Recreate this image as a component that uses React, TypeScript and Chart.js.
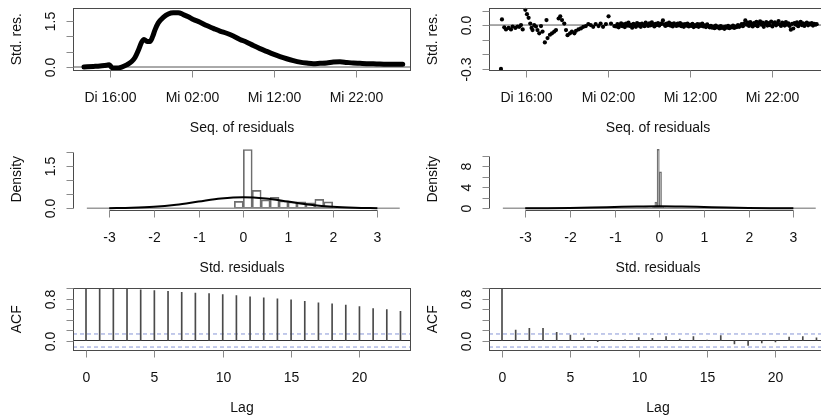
import React, { useEffect, useRef } from "react";
import { Chart, registerables } from "chart.js";
Chart.register(...registerables);

// ---------- data ----------
const TIME_TICKS = [16, 26, 36, 46]; // hours since Di 00:00
const TIME_LABELS = ["Di 16:00", "Mi 02:00", "Mi 12:00", "Mi 22:00"];
const TIME_RANGE = [11.49, 52.71];

// top-left: standardized residuals of the first fit (dense series read as a curve)
const FIT_HOURS = [12.83, 13.97, 14.78, 15.6, 15.92, 16.24, 16.81, 17.43, 18.04, 18.65, 19.05, 19.45, 19.86, 20.15, 20.47, 20.88, 21.2, 21.49, 21.89, 22.5, 23.11, 23.72, 24.33, 24.94, 25.55, 26.16, 26.98, 27.79, 28.6, 29.41, 30.23, 31.04, 31.85, 32.67, 33.48, 34.29, 35.1, 35.92, 36.73, 37.55, 38.36, 39.17, 39.99, 40.8, 41.61, 42.43, 43.24, 44.05, 44.87, 45.68, 46.49, 47.3, 48.52, 49.74, 50.96, 51.7];
const FIT_RES = [0.0, 0.02, 0.035, 0.06, 0.07, -0.02, -0.035, 0.0, 0.07, 0.18, 0.31, 0.54, 0.81, 0.9, 0.84, 0.83, 0.99, 1.21, 1.44, 1.62, 1.73, 1.77, 1.77, 1.71, 1.64, 1.55, 1.46, 1.35, 1.26, 1.17, 1.1, 1.01, 0.9, 0.81, 0.7, 0.6, 0.51, 0.42, 0.34, 0.27, 0.21, 0.16, 0.13, 0.11, 0.12, 0.13, 0.16, 0.17, 0.15, 0.13, 0.12, 0.11, 0.1, 0.09, 0.09, 0.09];

// top-right: standardized residuals of the second fit
const RES_EARLY_HOURS = [12.95, 13.07, 13.35, 13.56, 13.88, 14.17, 14.37, 14.7, 14.98, 15.18, 15.39, 15.6, 15.92, 16.12, 16.32, 16.52, 16.68, 16.8, 17.0, 17.22, 17.4, 17.62, 17.83, 18.02, 18.3, 18.5, 18.63, 18.92, 19.17, 19.45, 19.66, 19.98, 20.18, 20.39, 20.67, 20.88, 21.07, 21.37, 21.6, 21.9, 22.1, 22.4, 22.7, 22.99, 23.3, 23.6, 23.9, 24.2, 24.5, 24.85, 25.1, 25.4, 25.75, 26.07, 26.37, 26.77];
const RES_EARLY = [-0.303, 0.039, -0.016, -0.03, -0.02, -0.03, -0.01, -0.02, -0.01, -0.012, 0.0, -0.03, 0.105, 0.075, 0.05, 0.01, -0.02, -0.035, 0.0, -0.01, -0.035, -0.057, -0.007, -0.045, -0.12, 0.034, -0.09, -0.067, -0.057, -0.045, -0.035, 0.045, 0.06, 0.034, 0.01, -0.035, -0.07, -0.057, -0.045, -0.057, -0.04, -0.03, -0.023, -0.012, -0.007, 0.007, 0.0, -0.012, 0.007, -0.007, 0.01, -0.012, 0.007, 0.06, 0.01, -0.007];
const RES_LATE_START = 27.0;
const RES_LATE_STEP = 0.15;
const RES_LATE = [
  -0.01, 0.006, -0.016, 0.002, 0.012, -0.008, 0.004, -0.014, 0.01, -0.004, 0.016, -0.006, 0.002, -0.018, 0.008, 0.0, -0.012, 0.014, -0.004, 0.006,
  -0.012, 0.01, 0.0, -0.008, 0.016, 0.004, -0.006, 0.012, -0.002, 0.018, 0.002, -0.01, 0.008, 0.0, 0.014, -0.004, 0.006, 0.012, 0.032, 0.004, -0.006, 0.01, 0.0, 0.016, -0.004, 0.008, -0.01, 0.012, 0.002, -0.006, 0.01, -0.002, 0.014,
  -0.008, 0.004, -0.012, 0.006, -0.004, 0.01, -0.01, 0.002, -0.006, 0.008, -0.014, 0.0, -0.008, 0.006, -0.012, 0.004, -0.006, 0.01, -0.01, -0.002, -0.014, 0.004, -0.008, -0.016,
  -0.006, -0.018, -0.01, -0.022, -0.004, -0.016, -0.012, -0.024, -0.008, -0.02, -0.014, -0.026, -0.01, -0.018, -0.006, -0.022, -0.012, -0.016, -0.004, -0.02, -0.01, -0.014, 0.0, -0.012, -0.004, 0.006, -0.008,
  0.01, 0.032, 0.002, 0.016, -0.006, 0.02, 0.006, -0.01, 0.014, 0.0, 0.022, -0.008, 0.012, 0.026, 0.002, 0.016, -0.012, 0.008, 0.02, -0.004, 0.014, 0.0, 0.024, -0.01, 0.01, 0.018, -0.002, 0.012, 0.028, 0.004, -0.006, 0.016, 0.008, -0.004, 0.02, 0.002, 0.012,
  -0.006, -0.032, 0.008, -0.024, 0.014, 0.002, 0.018, -0.008, 0.01, 0.022, 0.0, 0.012, -0.006, 0.008, 0.016, -0.002, 0.01, 0.004, 0.014, -0.004, 0.008, 0.002, 0.006];

// middle: histograms of standardized residuals (density scale) + normal density
const HIST_FIT_MIDS = [-0.1, 0.1, 0.3, 0.5, 0.7, 0.9, 1.1, 1.3, 1.5, 1.7, 1.9];
const HIST_FIT_DENS = [0.25, 2.1, 0.64, 0.3, 0.39, 0.26, 0.23, 0.23, 0.2, 0.32, 0.23];
const HIST_RES_MIDS = [-0.325, -0.275, -0.225, -0.175, -0.125, -0.075, -0.025, 0.025, 0.075, 0.125];
const HIST_RES_DENS = [0.1, 0.1, 0, 0, 0.2, 1.2, 11.3, 7.0, 0.2, 0.1];
const NORM_X = [-3, -2.5, -2, -1.5, -1, -0.5, 0, 0.5, 1, 1.5, 2, 2.5, 3];
const NORM_Y = [0.004, 0.018, 0.054, 0.13, 0.242, 0.352, 0.399, 0.352, 0.242, 0.13, 0.054, 0.018, 0.004];
const BASE_X = [-3.5, 3.5];
const STD_TICKS = [-3, -2, -1, 0, 1, 2, 3];

// bottom: autocorrelation functions
const LAGS = [0, 1, 2, 3, 4, 5, 6, 7, 8, 9, 10, 11, 12, 13, 14, 15, 16, 17, 18, 19, 20, 21, 22, 23];
const ACF_FIT = [1.0, 0.995, 0.987, 0.98, 0.968, 0.955, 0.943, 0.924, 0.91, 0.898, 0.879, 0.86, 0.834, 0.815, 0.796, 0.777, 0.752, 0.72, 0.7, 0.68, 0.65, 0.61, 0.59, 0.56];
const ACF_RES = [1.0, 0.2, 0.235, 0.235, 0.155, 0.105, 0.045, -0.02, 0.015, 0.015, 0.055, 0.04, 0.075, 0.025, 0.075, 0.01, 0.095, -0.065, -0.095, -0.045, -0.025, 0.065, 0.075, 0.05];
const ACF_CI = 0.125;
const LAG_TICKS = [0, 5, 10, 15, 20];

// ---------- style ----------
const FONT = '14px "Liberation Sans", Arial, sans-serif';
const TEXT = "#111";
const BOX = "#4a4a4a";
const TICK = "#8a8a8a";
const PANEL_W = 416;
const PANEL_H = 140;

const rFrame = {
  id: "rFrame",
  afterDatasetsDraw(chart: any, _a: any, o: any) {
    if (!o || !o.on) return;
    const { ctx, chartArea: a, scales } = chart;
    const x = scales.x, y = scales.y;
    const L = Math.round(a.left) + 0.5, R = Math.round(a.right) - 0.5;
    const T = Math.round(a.top) + 0.5, B = Math.round(a.bottom) - 0.5;
    ctx.save();
    ctx.lineWidth = 1;
    if (o.box) {
      ctx.strokeStyle = BOX;
      ctx.strokeRect(L, T, R - L, B - T);
    }
    // x axis
    ctx.strokeStyle = TICK;
    const xp = o.xTicks.map((v: number) => Math.round(x.getPixelForValue(v)) + 0.5);
    if (o.axisLines) {
      ctx.strokeStyle = BOX;
      ctx.beginPath();
      ctx.moveTo(xp[0], B); ctx.lineTo(xp[xp.length - 1], B); ctx.stroke();
      ctx.strokeStyle = TICK;
    }
    ctx.beginPath();
    xp.forEach((p: number) => { ctx.moveTo(p, B); ctx.lineTo(p, B + 7); });
    ctx.stroke();
    // y axis
    const yp = o.yTicks.map((v: number) => Math.round(y.getPixelForValue(v)) + 0.5);
    if (o.axisLines) {
      ctx.strokeStyle = BOX;
      ctx.beginPath();
      ctx.moveTo(L, yp[0]); ctx.lineTo(L, yp[yp.length - 1]); ctx.stroke();
      ctx.strokeStyle = TICK;
    }
    ctx.beginPath();
    yp.forEach((p: number) => { ctx.moveTo(L - 7, p); ctx.lineTo(L, p); });
    ctx.stroke();
    // text
    ctx.fillStyle = TEXT;
    ctx.font = FONT;
    ctx.textAlign = "center";
    ctx.textBaseline = "middle";
    o.xLabels.forEach((s: string, i: number) => { if (s) ctx.fillText(s, xp[i], 98); });
    ctx.fillText(o.xTitle, (a.left + a.right) / 2, 128);
    o.yLabels.forEach((s: string, i: number) => {
      if (!s) return;
      ctx.save(); ctx.translate(51, yp[i]); ctx.rotate(-Math.PI / 2); ctx.fillText(s, 0, 0); ctx.restore();
    });
    ctx.save(); ctx.translate(17, (a.top + a.bottom) / 2); ctx.rotate(-Math.PI / 2); ctx.fillText(o.yTitle, 0, 0); ctx.restore();
    ctx.restore();
  },
};
Chart.register(rFrame);

function opts(xr: number[], yr: number[], frame: any) {
  return {
    animation: false,
    responsive: false,
    maintainAspectRatio: false,
    devicePixelRatio: 1,
    events: [],
    layout: { padding: { left: 73, right: 5, top: 7.5, bottom: 69 } },
    scales: {
      x: { type: "linear", display: false, min: xr[0], max: xr[1], offset: false },
      y: { type: "linear", display: false, min: yr[0], max: yr[1] },
    },
    plugins: { legend: { display: false }, tooltip: { enabled: false }, rFrame: { on: true, ...frame } },
  };
}

const pts = (xs: number[], ys: number[]) => xs.map((v, i) => ({ x: v, y: ys[i] }));
const hline = (xr: number[], yv: number, color: string, dash: number[] = []) => ({
  type: "line", data: [{ x: xr[0], y: yv }, { x: xr[1], y: yv }], borderColor: color, borderWidth: 1,
  borderDash: dash, pointRadius: 0, showLine: true, order: 5,
});

const HIST_X = [-3.81, 3.752];
const LAG_X = [-0.951, 23.77];
const ACF_Y = [-0.201, 1.015];

function tsFrame(yTicks: number[], yLabels: string[]) {
  return { box: true, xTicks: TIME_TICKS, xLabels: TIME_LABELS, xTitle: "Seq. of residuals", yTicks, yLabels, yTitle: "Std. res." };
}
function histFrame(yTicks: number[], yLabels: string[]) {
  return { box: false, axisLines: true, xTicks: STD_TICKS, xLabels: STD_TICKS.map(String), xTitle: "Std. residuals", yTicks, yLabels, yTitle: "Density" };
}
const acfFrame = { box: true, xTicks: LAG_TICKS, xLabels: LAG_TICKS.map(String), xTitle: "Lag", yTicks: [0, 0.2, 0.4, 0.6, 0.8, 1.0], yLabels: ["0.0", "", "", "", "0.8", ""], yTitle: "ACF" };

function histDatasets(mids: number[], dens: number[]) {
  return [
    { type: "bar", data: pts(mids, dens), backgroundColor: "rgba(255,255,255,0)", borderColor: "#6e6e6e", borderWidth: 1, borderSkipped: false, barPercentage: 1, categoryPercentage: 1, order: 3 },
    { type: "line", data: pts(BASE_X, [0, 0]), borderColor: "#9a9a9a", borderWidth: 1.5, pointRadius: 0, order: 2 },
    { type: "line", data: pts(NORM_X, NORM_Y), borderColor: "#000", borderWidth: 2, pointRadius: 0, cubicInterpolationMode: "monotone", order: 1 },
  ];
}
function acfDatasets(vals: number[]) {
  return [
    { type: "bar", data: pts(LAGS, vals), backgroundColor: "#4a4a4a", barThickness: 1, order: 2 },
    hline(LAG_X, 0, "#333"),
    hline(LAG_X, ACF_CI, "#8796d6", [4, 3]),
    hline(LAG_X, -ACF_CI, "#8796d6", [4, 3]),
  ];
}

const RES_LATE_HOURS = RES_LATE.map((_, i) => RES_LATE_START + i * RES_LATE_STEP);

const PANELS: { row: number; col: number; config: () => any }[] = [
  {
    row: 0, col: 0, config: () => ({
      type: "scatter",
      data: { datasets: [
        hline(TIME_RANGE, 0, "#555"),
        { type: "line", data: pts(FIT_HOURS, FIT_RES), borderColor: "#000", borderWidth: 5, pointRadius: 0, cubicInterpolationMode: "monotone", borderCapStyle: "round", borderJoinStyle: "round", order: 1 },
      ] },
      options: opts(TIME_RANGE, [-0.13, 1.94], tsFrame([0, 0.5, 1, 1.5], ["0.0", "", "", "1.5"])),
    }),
  },
  {
    row: 0, col: 1, config: () => ({
      type: "scatter",
      data: { datasets: [
        hline(TIME_RANGE, 0, "#555"),
        { type: "scatter", data: pts(RES_EARLY_HOURS, RES_EARLY).concat(pts(RES_LATE_HOURS, RES_LATE)), backgroundColor: "#000", borderWidth: 0, pointRadius: 2.1, order: 1 },
      ] },
      options: opts(TIME_RANGE, [-0.317, 0.121], tsFrame([-0.3, -0.2, -0.1, 0, 0.1], ["-0.3", "", "", "0.0", ""])),
    }),
  },
  {
    row: 1, col: 0, config: () => ({
      type: "bar",
      data: { datasets: histDatasets(HIST_FIT_MIDS, HIST_FIT_DENS) },
      options: opts(HIST_X, [-0.096, 2.171], histFrame([0, 0.5, 1, 1.5, 2], ["0.0", "", "", "1.5", ""])),
    }),
  },
  {
    row: 1, col: 1, config: () => ({
      type: "bar",
      data: { datasets: histDatasets(HIST_RES_MIDS, HIST_RES_DENS) },
      options: opts(HIST_X, [-0.516, 11.63], histFrame([0, 2, 4, 6, 8, 10], ["0", "", "4", "", "8", ""])),
    }),
  },
  {
    row: 2, col: 0, config: () => ({
      type: "bar",
      data: { datasets: acfDatasets(ACF_FIT) },
      options: opts(LAG_X, ACF_Y, acfFrame),
    }),
  },
  {
    row: 2, col: 1, config: () => ({
      type: "bar",
      data: { datasets: acfDatasets(ACF_RES) },
      options: opts(LAG_X, ACF_Y, acfFrame),
    }),
  },
];

export default function App() {
  const refs = useRef<(HTMLCanvasElement | null)[]>([]);
  useEffect(() => {
    const charts = PANELS.map((p, i) => new Chart(refs.current[i] as HTMLCanvasElement, p.config()));
    return () => charts.forEach((c) => c.destroy());
  }, []);
  return (
    <div style={{ position: "absolute", left: 0, top: 0, width: 821, height: 420, overflow: "hidden", background: "#fff" }}>
      {PANELS.map((p, i) => (
        <canvas
          key={i}
          ref={(el) => { refs.current[i] = el; }}
          width={PANEL_W}
          height={PANEL_H}
          style={{ position: "absolute", left: p.col * PANEL_W, top: p.row * PANEL_H, width: PANEL_W, height: PANEL_H }}
        />
      ))}
    </div>
  );
}
